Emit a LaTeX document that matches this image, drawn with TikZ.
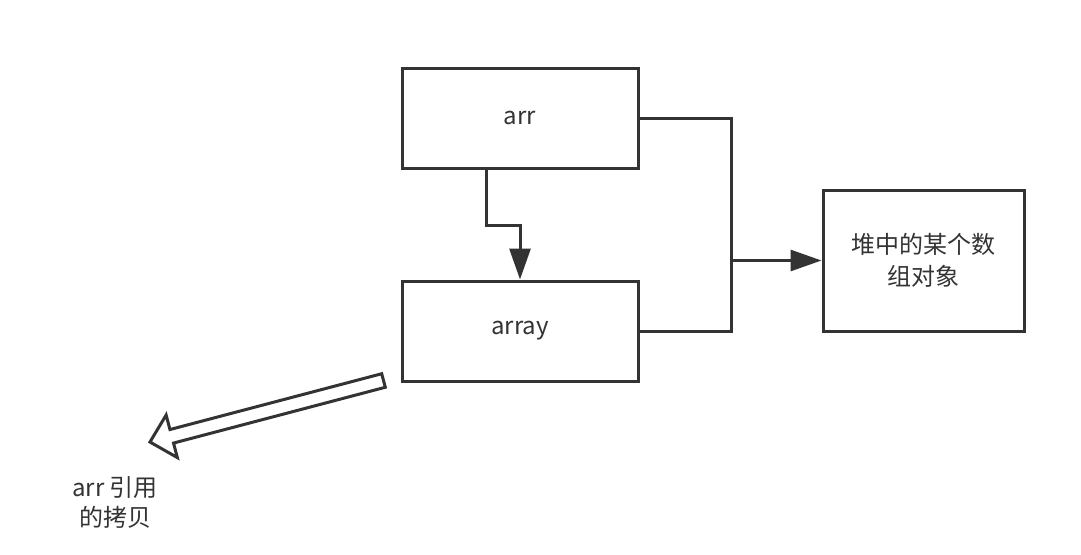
\documentclass[tikz,border=0pt]{standalone}
\usepackage{fontspec}
\setmainfont{Noto Sans CJK SC}
\usetikzlibrary{arrows.meta}
\definecolor{ink}{HTML}{333333}
\tikzset{
  box/.style={draw=ink, line width=3pt, text=ink, align=center,
    font=\fontsize{24}{32}\selectfont},
  link/.style={draw=ink, line width=3pt},
  tip/.style={-{Triangle[length=31pt, width=21pt]}}
}

\begin{document}
\begin{tikzpicture}[x=1pt, y=-1pt]
  \useasboundingbox (0,0) rectangle (1081,554);

  \node[box, minimum width=236pt, minimum height=100pt] (arr) at (520,118) {arr};
  \node[box, minimum width=236pt, minimum height=100pt] (array) at (520,331) {array};
  \node[box, minimum width=201pt, minimum height=141pt] (heap) at (923.5,260.5) {堆中的某个数\\组对象};

  % both references point to the same object
  \coordinate (bus) at (731,260.5);
  \draw[link] (arr.east) -| (bus) |- (array.east);
  \draw[link, tip] (bus) -- (heap.west);

  % assignment arr -> array
  \draw[link, tip] ([xshift=-34pt]arr.south) -- ++(0,56) -| (array.north);

  % hollow arrow to the note
  \begin{scope}[shift={(383.5,380.5)}, rotate=194.76]
    \draw[link, line join=miter] (0,7) -- (219,7) -- (219,22) -- (241.5,0)
      -- (219,-22) -- (219,-7) -- (0,-7) -- cycle;
  \end{scope}
  \node[text=ink, align=center, font=\fontsize{24}{30}\selectfont] (copy) at (115,502) {arr 引用\\的拷贝};
\end{tikzpicture}
\end{document}
